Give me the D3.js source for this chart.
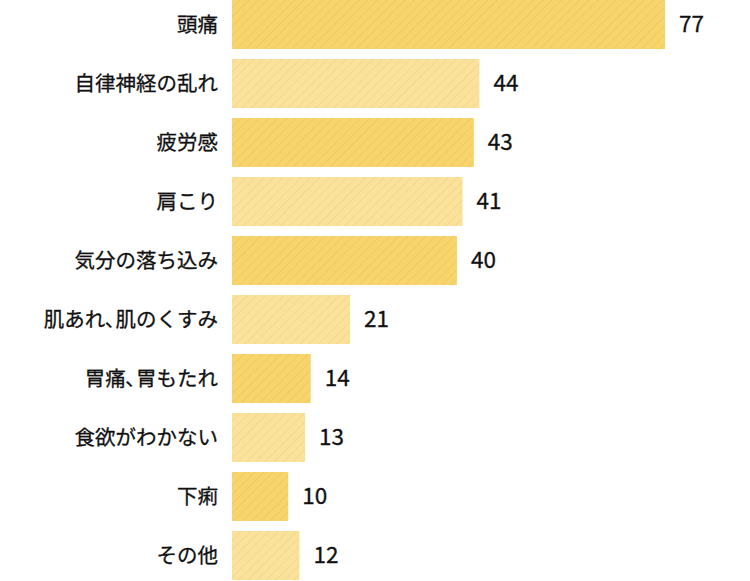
<!DOCTYPE html>
<html>
<head>
<meta charset="utf-8">
<script src="https://cdn.jsdelivr.net/npm/d3@7"></script>
<style>
  body { margin: 0; background: #fff; }
  svg { display: block; font-family: "Noto Sans CJK JP", "Noto Sans", sans-serif; }
</style>
</head>
<body>
<svg width="750" height="581"></svg>
<script>
const categories = ["頭痛", "自律神経の乱れ", "疲労感", "肩こり", "気分の落ち込み",
  "肌あれ､肌のくすみ", "胃痛､胃もたれ", "食欲がわかない", "下痢", "その他"]
const values = [77, 44, 43, 41, 40, 21, 14, 13, 10, 12]

const svg = d3.select("svg")
const left = 232

const x = d3.scaleLinear().domain([0, 77]).range([left, 665])
const y = d3.scaleBand().domain(categories).range([0, 580]).paddingInner(10 / 59).paddingOuter(0)

// two hatch fills, alternating
const defs = svg.append("defs")
const fills = [
  { id: "hatchDark", bg: "#f8d56c", line: "#e6bf58" },
  { id: "hatchLight", bg: "#fbe29b", line: "#ebcd7d" }
]
for (const f of fills) {
  const p = defs.append("pattern")
    .attr("id", f.id)
    .attr("patternUnits", "userSpaceOnUse")
    .attr("width", 6.5)
    .attr("height", 6.5)
    .attr("patternTransform", "rotate(45)")
  p.append("rect").attr("width", 6.5).attr("height", 6.5).attr("fill", f.bg)
  p.append("line")
    .attr("x1", 0).attr("y1", 0).attr("x2", 0).attr("y2", 6.5)
    .attr("stroke", f.line)
    .attr("stroke-width", 1.6)
    .attr("stroke-dasharray", "1.2 0.8")
}

const rows = svg.selectAll(".row")
  .data(categories)
  .enter()
  .append("g")
  .attr("class", "row")

rows.append("rect")
  .attr("x", left)
  .attr("y", d => y(d))
  .attr("width", (d, i) => x(values[i]) - left)
  .attr("height", y.bandwidth())
  .attr("fill", (d, i) => i % 2 === 0 ? "url(#hatchDark)" : "url(#hatchLight)")

rows.append("text")
  .attr("x", 218)
  .attr("y", d => y(d) + y.bandwidth() / 2)
  .attr("dy", "0.35em")
  .attr("text-anchor", "end")
  .attr("font-size", 20.5)
  .attr("stroke", "#111")
  .attr("stroke-width", 0.3)
  .attr("fill", "#111")
  .text(d => d)

rows.append("text")
  .attr("x", (d, i) => x(values[i]) + 14)
  .attr("y", d => y(d) + y.bandwidth() / 2)
  .attr("dy", "0.35em")
  .attr("font-size", 22.5)
  .attr("stroke", "#111")
  .attr("stroke-width", 0.3)
  .attr("fill", "#111")
  .text((d, i) => values[i])
</script>
</body>
</html>
